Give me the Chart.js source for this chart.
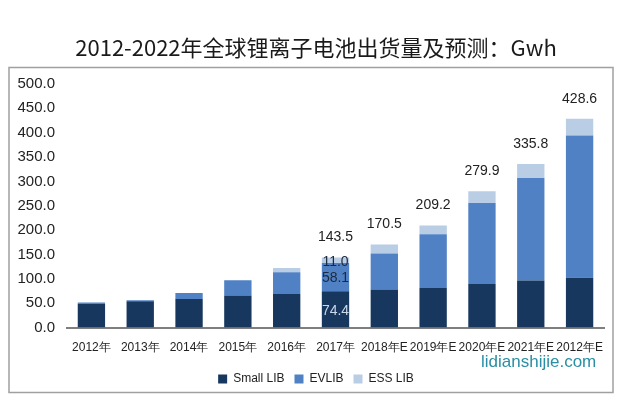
<!DOCTYPE html>
<html>
<head>
<meta charset="utf-8">
<script src="https://cdn.jsdelivr.net/npm/chart.js@4/dist/chart.umd.min.js"></script>
<style>
  html, body { margin: 0; padding: 0; background: #fff; }
  #wrap { width: 620px; height: 395px; }
</style>
</head>
<body>
<div id="wrap"><canvas id="chart" width="620" height="395"></canvas></div>
<script>
// --- DONNEES ---
const categories = ['2012年', '2013年', '2014年', '2015年', '2016年', '2017年', '2018年E', '2019年E', '2020年E', '2021年E', '2012年E'];
const smallLib = [49.0, 53.7, 58.5, 65.5, 68.8, 74.4, 78.0, 81.3, 89.5, 96.5, 102.0];
const evLib    = [2.5, 2.0, 12.5, 31.5, 44.6, 58.1, 74.0, 110.2, 166.0, 210.5, 292.0];
const essLib   = [0, 0, 0, 0, 9.0, 11.0, 18.5, 17.7, 24.4, 28.8, 34.6];
const totals   = [null, null, null, null, null, 143.5, 170.5, 209.2, 279.9, 335.8, 428.6];
const yTicks   = [0, 50, 100, 150, 200, 250, 300, 350, 400, 450, 500];

const FONT = "'Liberation Sans', Arial, sans-serif";
const COL_SMALL = '#17375e';
const COL_EV = '#4f81c4';
const COL_ESS = '#b9cde5';

// Cadre gris + filigrane
const framePlugin = {
    id: 'frame',
    beforeDraw(chart) {
        const c = chart.ctx;
        c.save();
        c.strokeStyle = '#a0a0a0';
        c.lineWidth = 1.5;
        c.strokeRect(9, 67.5, 604, 325);
        c.restore();
    },
    afterDraw(chart) {
        const c = chart.ctx;
        c.save();
        c.font = "17px " + FONT;
        c.fillStyle = '#2a8fa4';
        c.textAlign = 'left';
        c.textBaseline = 'middle';
        c.fillText('lidianshijie.com', 481, 362);
        c.restore();
    }
};

// Etiquettes : totaux au-dessus, detail pour 2017
const labelPlugin = {
    id: 'labels',
    afterDatasetsDraw(chart) {
        const c = chart.ctx;
        const top = chart.getDatasetMeta(2).data;
        c.save();
        c.font = "14px " + FONT;
        c.textAlign = 'center';
        c.textBaseline = 'middle';
        c.fillStyle = '#222';
        totals.forEach((v, i) => {
            if (v === null) return;
            c.fillText(v.toFixed(1), top[i].x, top[i].y - 20);
        });
        // detail 2017
        const i = 5;
        const segs = [[0, smallLib, '#c9d8ea'], [1, evLib, '#1a2a40'], [2, essLib, '#1a2a40']];
        segs.forEach(([d, arr, col]) => {
            const el = chart.getDatasetMeta(d).data[i];
            c.fillStyle = col;
            c.fillText(arr[i].toFixed(1), el.x, (el.y + el.base) / 2 + 1.5);
        });
        c.restore();
    }
};

new Chart(document.getElementById('chart'), {
    type: 'bar',
    data: {
        labels: categories,
        datasets: [
            { label: 'Small LIB', data: smallLib, backgroundColor: COL_SMALL, borderWidth: 0 },
            { label: 'EVLIB', data: evLib, backgroundColor: COL_EV, borderWidth: 0 },
            { label: 'ESS LIB', data: essLib, backgroundColor: COL_ESS, borderWidth: 0 }
        ]
    },
    options: {
        responsive: false,
        animation: false,
        layout: { padding: { left: 12, right: 0, top: 0, bottom: 0 } },
        datasets: { bar: { categoryPercentage: 1, barPercentage: 0.56 } },
        scales: {
            x: {
                stacked: true,
                grid: { display: false, drawTicks: false },
                border: { display: true, color: '#7f7f7f', width: 2 },
                ticks: { color: '#222', font: { family: FONT, size: 12 }, padding: 13, maxRotation: 0, autoSkip: false },
                afterFit(s) { s.height = 35.5; }
            },
            y: {
                stacked: true,
                min: 0, max: 500,
                afterBuildTicks(s) { s.ticks = yTicks.map(v => ({ value: v })); },
                grid: { display: false, drawTicks: false },
                border: { display: false },
                ticks: { color: '#222', font: { family: FONT, size: 15 }, padding: 12, callback: v => v.toFixed(1) },
                afterFit(s) { s.width = 55; }
            },
            // axe vide a droite, juste pour la marge
            y2: {
                position: 'right',
                grid: { display: false, drawTicks: false },
                border: { display: false },
                ticks: { display: false },
                afterFit(s) { s.width = 16; }
            }
        },
        plugins: {
            title: {
                display: true,
                text: '2012-2022年全球锂离子电池出货量及预测：Gwh',
                color: '#1a1a1a',
                font: { family: "'Noto Sans CJK SC', sans-serif", size: 22, weight: 'normal' },
                padding: { top: 34, bottom: 23.6 }
            },
            legend: {
                position: 'bottom',
                labels: { boxWidth: 9, boxHeight: 9, padding: 10, color: '#222', font: { family: FONT, size: 12 } }
            },
            tooltip: { enabled: false }
        }
    },
    plugins: [framePlugin, labelPlugin]
});
</script>
</body>
</html>
